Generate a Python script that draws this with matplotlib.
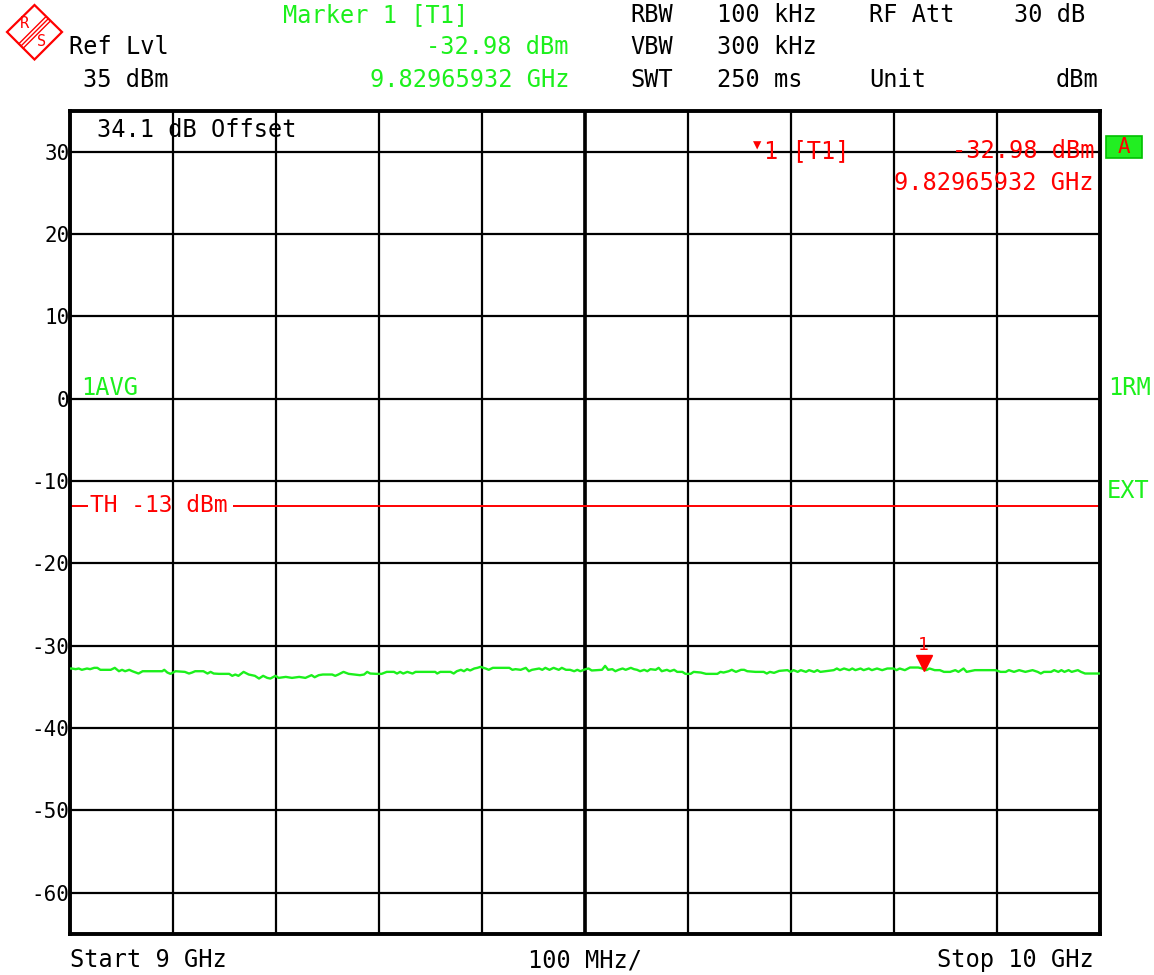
import numpy as np
import matplotlib
matplotlib.use("Agg")
import matplotlib.pyplot as plt
from matplotlib.patches import Polygon, Rectangle
from matplotlib.lines import Line2D
from matplotlib.transforms import Affine2D, offset_copy

W, H = 1154, 975
MONO = "DejaVu Sans Mono"
GREEN = "#1cf01c"
RED = "#ff0000"

# ---- analyzer settings / data ----
start_ghz = 9.0
stop_ghz = 10.0
ref_level = 35
bottom_level = -65
y_ticks = [30, 20, 10, 0, -10, -20, -30, -40, -50, -60]
threshold_dbm = -13
marker_freq = 9.82965932
marker_level = -32.98

freq_ghz = [
    9.000, 9.002, 9.006, 9.009, 9.012, 9.017, 9.020, 9.024, 9.027, 9.030,
    9.040, 9.044, 9.048, 9.051, 9.054, 9.058, 9.061, 9.067, 9.071, 9.090,
    9.092, 9.095, 9.098, 9.103, 9.112, 9.116, 9.119, 9.122, 9.130, 9.134,
    9.137, 9.140, 9.145, 9.155, 9.158, 9.161, 9.164, 9.169, 9.174, 9.180,
    9.184, 9.188, 9.192, 9.195, 9.200, 9.203, 9.210, 9.216, 9.223, 9.229,
    9.235, 9.238, 9.242, 9.246, 9.255, 9.258, 9.261, 9.266, 9.271, 9.277,
    9.282, 9.286, 9.289, 9.292, 9.298, 9.303, 9.308, 9.315, 9.318, 9.321,
    9.324, 9.328, 9.333, 9.336,
    9.355, 9.357, 9.360, 9.370, 9.373, 9.376, 9.380, 9.383, 9.386, 9.389,
    9.393, 9.396, 9.399, 9.404, 9.407, 9.411, 9.427, 9.430, 9.433, 9.438,
    9.443, 9.446, 9.449, 9.456, 9.459, 9.462, 9.466, 9.470, 9.475, 9.478,
    9.482, 9.486, 9.490, 9.493, 9.496, 9.501, 9.504, 9.507, 9.517, 9.520,
    9.523, 9.527, 9.530, 9.533, 9.537, 9.540, 9.545, 9.548, 9.551, 9.554,
    9.558, 9.561, 9.564, 9.569, 9.572, 9.575, 9.580, 9.583, 9.587, 9.590,
    9.595, 9.598, 9.603, 9.606, 9.613, 9.618, 9.629, 9.632, 9.635, 9.640,
    9.643, 9.647, 9.652, 9.655, 9.658,
    9.666, 9.674, 9.677, 9.680, 9.684, 9.689, 9.697, 9.700, 9.703, 9.707,
    9.710, 9.715, 9.718, 9.723, 9.726, 9.729, 9.742, 9.745, 9.748, 9.752,
    9.757, 9.760, 9.763, 9.768, 9.771, 9.776, 9.779, 9.784, 9.789, 9.794,
    9.800, 9.803, 9.806, 9.811, 9.816, 9.824, 9.828, 9.832, 9.835, 9.840,
    9.845, 9.849, 9.855, 9.860, 9.863, 9.868, 9.871, 9.879, 9.899, 9.904,
    9.909, 9.912, 9.917, 9.922, 9.928, 9.935, 9.940, 9.943, 9.946, 9.953,
    9.956, 9.960, 9.963, 9.966, 9.970, 9.973, 9.979, 9.982, 9.986, 9.997,
    10.000,
]
level_dbm = [
    -32.76, -32.76, -32.84, -32.76, -32.92, -32.76, -32.84, -32.68, -32.68, -32.92,
    -32.92, -32.68, -33.09, -32.92, -33.09, -32.92, -33.09, -33.37, -33.09, -33.09,
    -32.92, -33.25, -33.41, -33.09, -33.17, -33.37, -33.25, -33.09, -33.09, -33.37,
    -33.17, -33.37, -33.41, -33.41, -33.65, -33.49, -33.65, -33.17, -33.49, -33.65,
    -33.98, -33.65, -33.90, -33.98, -33.65, -33.90, -33.78, -33.90, -33.78, -33.90,
    -33.57, -33.82, -33.57, -33.49, -33.49, -33.65, -33.49, -33.17, -33.41, -33.49,
    -33.57, -33.49, -33.17, -33.37, -33.41, -33.41, -33.17, -33.17, -33.37, -33.17,
    -33.37, -33.17, -33.37, -33.17,
    -33.17, -33.37, -33.17, -33.17, -33.37, -33.09, -32.92, -33.09, -32.84, -33.00,
    -32.76, -32.68, -32.56, -32.76, -32.92, -32.68, -32.68, -32.92, -32.84, -32.92,
    -32.68, -33.09, -32.92, -32.76, -32.92, -32.68, -32.92, -32.68, -32.92, -32.68,
    -32.92, -32.92, -33.09, -32.92, -33.09, -32.84, -32.76, -33.00, -32.92, -32.44,
    -32.92, -32.84, -33.09, -32.92, -32.76, -32.92, -32.68, -32.84, -32.92, -33.09,
    -32.92, -33.09, -32.84, -32.92, -32.68, -33.09, -32.92, -33.09, -32.92, -33.17,
    -33.17, -33.41, -33.41, -33.17, -33.25, -33.41, -33.41, -33.17, -33.25, -33.09,
    -32.92, -33.17, -32.92, -32.92, -33.09,
    -33.17, -33.17, -33.37, -33.17, -33.29, -33.05, -32.96, -33.17, -32.96, -33.17,
    -32.96, -33.17, -32.96, -33.17, -32.96, -33.17, -32.96, -32.76, -32.96, -32.76,
    -32.96, -32.76, -32.96, -32.76, -32.96, -32.76, -32.96, -32.76, -32.96, -32.76,
    -32.76, -32.96, -32.76, -32.96, -32.64, -32.64, -32.76, -32.96, -32.76, -32.96,
    -32.96, -33.17, -33.17, -32.96, -33.17, -32.76, -33.17, -32.96, -32.96, -33.17,
    -33.17, -32.96, -33.17, -32.96, -33.17, -32.96, -33.17, -33.37, -33.17, -33.17,
    -32.96, -33.17, -32.96, -33.17, -32.96, -33.17, -32.96, -33.17, -33.37, -33.37,
    -33.37,
]

fig = plt.figure(figsize=(W / 100, H / 100), dpi=100)
fig.patch.set_facecolor("white")
# pixel coordinates with origin at top-left, for the screen annotations
PX = Affine2D().scale(1 / W, -1 / H).translate(0, 1) + fig.transFigure

ax = fig.add_axes([69.5 / W, 1 - 934 / H, 1030 / W, (934 - 110.5) / H])
ax.set_xlim(start_ghz, stop_ghz)
ax.set_ylim(bottom_level, ref_level)

# graticule
div_ghz = (stop_ghz - start_ghz) / 10
ax.set_xticks(start_ghz + div_ghz * np.arange(11))
ax.set_xticklabels([])
ax.set_yticks(y_ticks)
ax.set_yticklabels([str(v) for v in y_ticks], fontfamily=MONO, fontsize=15)
ax.tick_params(length=0, pad=0)
ax.grid(True, color="black", linewidth=1.6)
ax.axvline((start_ghz + stop_ghz) / 2, color="black", linewidth=2.6, zorder=1)
for sp in ax.spines.values():
    sp.set_linewidth(2.8)

# threshold line with its label
ax.hlines(threshold_dbm, start_ghz, start_ghz + 0.018, color=RED, linewidth=1.4, zorder=2)
ax.hlines(threshold_dbm, start_ghz + 0.159, stop_ghz, color=RED, linewidth=1.4, zorder=2)
ax.text(start_ghz + 0.0195, threshold_dbm, f"TH {threshold_dbm} dBm", color=RED,
        fontfamily=MONO, fontsize=16.5, va="center", ha="left")

# trace
ax.plot(freq_ghz, level_dbm, color=GREEN, linewidth=1.7, zorder=3)

# marker 1
ax.plot(marker_freq, marker_level, marker="v", markersize=11, color=RED, zorder=4,
        transform=offset_copy(ax.transData, fig, x=0, y=7, units="dots"))
ax.annotate("1", (marker_freq, marker_level), xytext=(-1, 25), textcoords="offset pixels",
            ha="center", va="center", color=RED, fontfamily=MONO, fontsize=13)


def label(x, y, s, color="black", ha="left", size=17):
    fig.text(x, y, s, transform=PX, color=color, ha=ha, va="center",
             fontfamily=MONO, fontsize=size)


# header
label(283, 15, "Marker 1 [T1]", GREEN)
label(569, 47, f"{marker_level:.2f} dBm", GREEN, ha="right")
label(569, 80, f"{marker_freq:.8f} GHz", GREEN, ha="right")
label(69, 47, "Ref Lvl")
label(83, 80, f"{ref_level} dBm")
label(630, 15, "RBW")
label(717, 15, "100 kHz")
label(869, 15, "RF Att")
label(1085, 15, "30 dB", ha="right")
label(630, 47, "VBW")
label(717, 47, "300 kHz")
label(630, 80, "SWT")
label(717, 80, "250 ms")
label(869, 80, "Unit")
label(1098, 80, "dBm", ha="right")

# in-graticule annotations
label(97, 130, "34.1 dB Offset")
label(757, 145, "\u25bc", RED, ha="center", size=10)
label(764, 151, "1 [T1]", RED)
label(1094, 151, f"{marker_level:.2f} dBm", RED, ha="right")
label(1094, 183, f"{marker_freq:.8f} GHz", RED, ha="right")
label(81, 388, "1AVG", GREEN)
label(1108, 388, "1RM", GREEN)
label(1107, 491, "EXT", GREEN)

# trace "A" badge
fig.add_artist(Rectangle((1106, 136), 36, 22, transform=PX, facecolor="#22ee22",
                         edgecolor="#00c000", linewidth=1.2))
label(1124, 147, "A", RED, ha="center", size=15)

# footer
label(70, 960, f"Start {start_ghz:g} GHz")
label(585, 960, f"{div_ghz * 1000:.0f} MHz/", ha="center")
label(1094, 960, f"Stop {stop_ghz:g} GHz", ha="right")

# R&S logo
fig.add_artist(Polygon([(7, 32), (34.5, 5), (62, 32), (34.5, 59.5)], closed=True,
                       transform=PX, fill=False, edgecolor=RED, linewidth=1.6))
for d in (-2.2, 0, 2.2):
    fig.add_artist(Line2D([21 + d, 48 + d], [46 + d, 19 + d], transform=PX,
                          color=RED, linewidth=1.0))
label(24, 23, "R", RED, ha="center", size=11)
label(42, 42, "S", RED, ha="center", size=11)

fig.savefig("out.png", dpi=100, facecolor="white")
